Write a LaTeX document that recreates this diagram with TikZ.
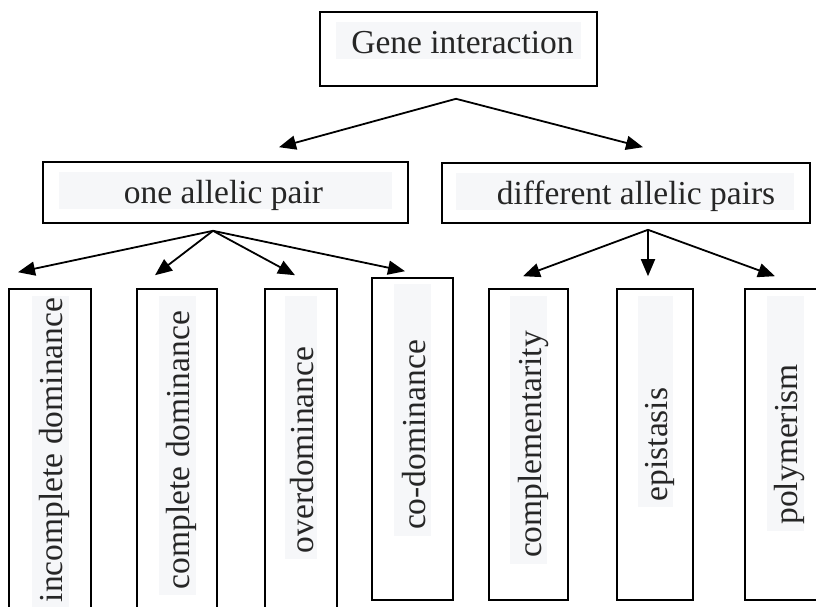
\documentclass[tikz,border=0pt]{standalone}
\usepackage{fontspec}
\setmainfont{Liberation Serif}
\usepackage{xcolor}
\usetikzlibrary{arrows.meta,calc,backgrounds}
\definecolor{txtcolor}{HTML}{262626}
\definecolor{hlcolor}{HTML}{F6F7F9}

\tikzset{
  box/.style={draw=black, line width=1.6pt, rectangle, inner sep=0pt},
  htxt/.style={font=\fontsize{33.5}{36}\selectfont, text=txtcolor, inner sep=0pt,
    text height=25pt, text depth=0pt},
  vtxt/.style={htxt, rotate=90},
  arr/.style={line width=1.8pt, -{Triangle[length=17pt,width=14pt]}}
}

\begin{document}
\begin{tikzpicture}[x=1pt,y=-1pt]
\useasboundingbox (0,0) rectangle (816,607);
% boxes
\node[box, minimum width=277pt, minimum height=74pt] (gi) at (458.5,49) {};
\node[box, minimum width=365pt, minimum height=61pt] (onep) at (225.5,192.5) {};
\node[box, minimum width=368pt, minimum height=60pt] (diffp) at (626,193) {};
\node[box, minimum width=82pt, minimum height=322pt] (incd) at (50,450) {};
\node[box, minimum width=80pt, minimum height=322pt] (compd) at (177,450) {};
\node[box, minimum width=72pt, minimum height=322pt] (overd) at (301,450) {};
\node[box, minimum width=81pt, minimum height=322pt] (cod) at (412.5,439) {};
\node[box, minimum width=79pt, minimum height=311pt] (compl) at (528.5,444.5) {};
\node[box, minimum width=76pt, minimum height=311pt] (epi) at (655,444.5) {};
\node[box, minimum width=80pt, minimum height=311pt] (poly) at (785,444.5) {};

% labels
\node[htxt, anchor=base] (gi-t) at ($(gi.north)+(4,42)$) {Gene interaction};
\node[htxt, anchor=base] (onep-t) at ($(onep.north)+(-2,42)$) {one allelic pair};
\node[htxt, anchor=base] (diffp-t) at ($(diffp.north)+(10,42)$) {different allelic pairs};
\node[vtxt] (incd-t) at (incd) {incomplete dominance};
\node[vtxt] (compd-t) at (compd) {complete dominance};
\node[vtxt] (overd-t) at (overd) {overdominance};
\node[vtxt] (cod-t) at ($(cod)+(0,-4)$) {co-dominance};
\node[vtxt] (compl-t) at (compl) {complementarity};
\node[vtxt] (epi-t) at (epi) {epistasis};
\node[vtxt] (poly-t) at (poly) {polymerism};

% shaded strips behind the texts
\begin{scope}[on background layer]
\fill[hlcolor] ($(gi.north west)+(17,11)$) rectangle ($(gi.north east)+(-17,48)$);
\fill[hlcolor] ($(onep.north west)+(17,11)$) rectangle ($(onep.north east)+(-17,48)$);
\fill[hlcolor] ($(diffp.north west)+(15,11)$) rectangle ($(diffp.north east)+(-17,48)$);
\fill[hlcolor] ($(incd.north)+(-18.5,8)$) rectangle ($(incd.center |- incd-t.west)+(18.5,6)$);
\fill[hlcolor] ($(compd.north)+(-18.5,8)$) rectangle ($(compd.center |- compd-t.west)+(18.5,6)$);
\fill[hlcolor] ($(overd.north)+(-16,8)$) rectangle ($(overd.center |- overd-t.west)+(16,6)$);
\fill[hlcolor] ($(cod.north)+(-18.5,7)$) rectangle ($(cod.center |- cod-t.west)+(18.5,6)$);
\fill[hlcolor] ($(compl.north)+(-18.5,8)$) rectangle ($(compl.center |- compl-t.west)+(18.5,6)$);
\fill[hlcolor] ($(epi.north)+(-17.5,8)$) rectangle ($(epi.center |- epi-t.west)+(17.5,6)$);
\fill[hlcolor] ($(poly.north)+(-18.5,8)$) rectangle ($(poly.center |- poly-t.west)+(18.5,6)$);
\end{scope}

% arrows
\coordinate (gi-o) at ($(gi.south)+(-2.5,12)$);
\draw[arr] (gi-o) -- ($(onep.north)+(53.5,-14)$);
\draw[arr] (gi-o) -- ($(diffp.north)+(17,-15)$);

\coordinate (onep-o) at ($(onep.south)+(-12.5,7)$);
\draw[arr] (onep-o) -- ($(incd.north)+(-32,-16)$);
\draw[arr] (onep-o) -- ($(compd.north)+(-22,-13)$);
\draw[arr] (onep-o) -- ($(overd.north)+(-6,-13)$);
\draw[arr] (onep-o) -- ($(cod.north)+(-7.5,-6)$);

\coordinate (diffp-o) at ($(diffp.south)+(22,6)$);
\draw[arr] (diffp-o) -- ($(compl.north)+(-5.5,-12)$);
\draw[arr] (diffp-o) -- ($(epi.north)+(-7,-12)$);
\draw[arr] (diffp-o) -- ($(poly.north)+(-10,-12)$);
\end{tikzpicture}
\end{document}
